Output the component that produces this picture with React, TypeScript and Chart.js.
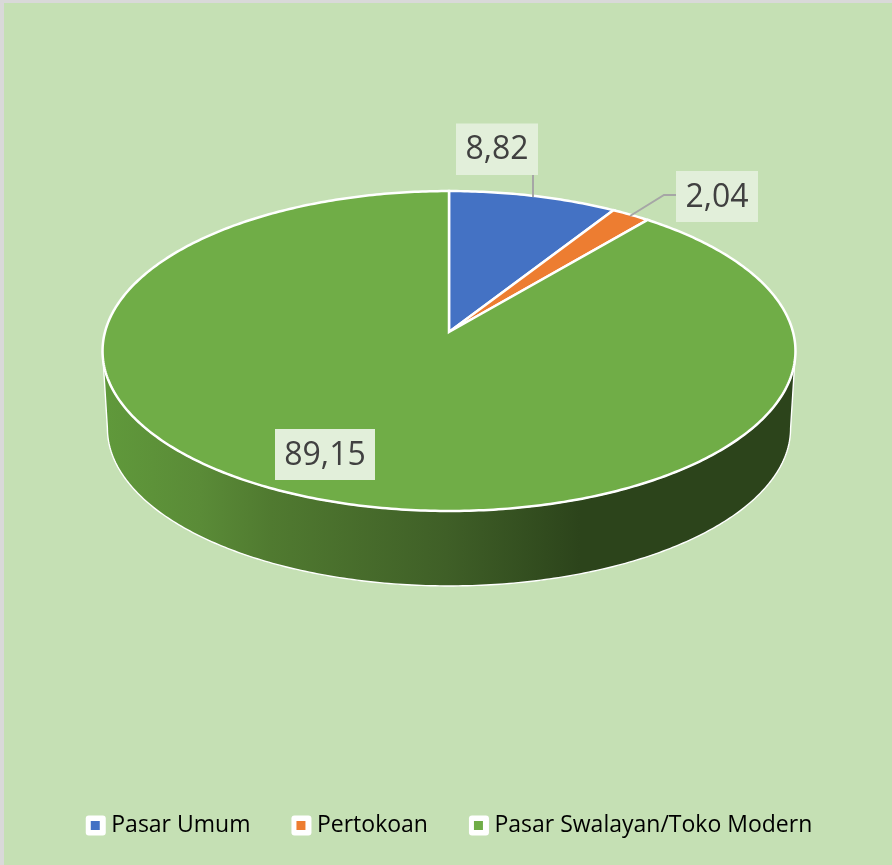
import React, { useEffect, useRef } from "react";
import { Chart, registerables, ArcElement, PieController } from "chart.js";

const categories = ["Pasar Umum", "Pertokoan", "Pasar Swalayan/Toko Modern"];
const shares = [8.82, 2.04, 89.15];
const sliceColors = ["#4472c4", "#ed7d31", "#70ad47"];

// projective view of the pie's disc
const VIEW = { cx: 449, topY: 332, bottomY: 409.5, f: 344, g: 157.7, k: -0.11875, baseScale: 0.986 };

function rim(theta: number, base: boolean) {
  const s = base ? VIEW.baseScale : 1;
  const d = 1 + VIEW.k * Math.sin(theta);
  return {
    x: VIEW.cx + (s * VIEW.f * Math.cos(theta)) / d,
    y: (base ? VIEW.bottomY : VIEW.topY) + (s * VIEW.g * Math.sin(theta)) / d,
  };
}

class PerspectiveArc extends ArcElement {
  static id = "perspectiveArc";
  draw(ctx: CanvasRenderingContext2D) {
    const { startAngle, endAngle } = (this as any).getProps(["startAngle", "endAngle"]);
    const o = (this as any).options;
    const sweep = Math.asin(-VIEW.k);
    const a0 = Math.max(startAngle, sweep);
    const a1 = Math.min(endAngle, Math.PI - sweep);
    ctx.save();
    if (a1 > a0) {
      const n = 240;
      ctx.beginPath();
      for (let i = 0; i <= n; i++) {
        const p = rim(a0 + ((a1 - a0) * i) / n, false);
        if (i === 0) ctx.moveTo(p.x, p.y);
        else ctx.lineTo(p.x, p.y);
      }
      for (let i = n; i >= 0; i--) {
        const p = rim(a0 + ((a1 - a0) * i) / n, true);
        ctx.lineTo(p.x, p.y);
      }
      ctx.closePath();
      const g = ctx.createLinearGradient(105, 0, 580, 0);
      g.addColorStop(0, "#60993b");
      g.addColorStop(0.2, "#5a8b37");
      g.addColorStop(0.35, "#507a30");
      g.addColorStop(0.72, "#3f5f27");
      g.addColorStop(1, "#2c441b");
      ctx.fillStyle = g;
      ctx.fill();
      ctx.strokeStyle = "#ffffff";
      ctx.lineWidth = 1.4;
      ctx.lineJoin = "round";
      ctx.stroke();
    }
    const n = Math.max(8, Math.ceil((endAngle - startAngle) * 80));
    ctx.beginPath();
    ctx.moveTo(VIEW.cx, VIEW.topY);
    for (let i = 0; i <= n; i++) {
      const p = rim(startAngle + ((endAngle - startAngle) * i) / n, false);
      ctx.lineTo(p.x, p.y);
    }
    ctx.closePath();
    ctx.fillStyle = o.backgroundColor;
    ctx.fill();
    ctx.strokeStyle = o.borderColor;
    ctx.lineWidth = o.borderWidth;
    ctx.lineJoin = "miter";
    ctx.stroke();
    ctx.restore();
  }
}

class PerspectivePie extends PieController {
  static id = "perspectivePie";
  static defaults = { dataElementType: "perspectiveArc" };
}

Chart.register(...registerables, PerspectiveArc, PerspectivePie);

const backdrop = {
  id: "backdrop",
  beforeDraw(chart: any) {
    const { ctx, width, height } = chart;
    ctx.save();
    ctx.fillStyle = "#d9d9d9";
    ctx.fillRect(0, 0, width, height);
    ctx.fillStyle = "#c5e0b4";
    ctx.fillRect(4, 3, width - 4, height - 3);
    ctx.fillStyle = "#ffffff";
    for (const h of chart.legend.legendHitBoxes) {
      ctx.beginPath();
      ctx.roundRect(h.left - 5, h.top + h.height / 2 - 10, 20, 20, 3);
      ctx.fill();
    }
    ctx.restore();
  },
};

const labelBoxes = [
  { l: 456, t: 123.5, r: 538, b: 175, leader: [[533, 175], [533, 197]] },
  { l: 676, t: 171, r: 758, b: 222, leader: [[676, 195], [664, 195], [630, 216]] },
  { l: 275, t: 429, r: 375, b: 480, leader: [] },
];

const valueLabels = {
  id: "valueLabels",
  afterDatasetsDraw(chart: any) {
    const { ctx } = chart;
    ctx.save();
    labelBoxes.forEach((b, i) => {
      if (b.leader.length) {
        ctx.beginPath();
        b.leader.forEach(([x, y]: number[], j: number) => (j ? ctx.lineTo(x, y) : ctx.moveTo(x, y)));
        ctx.strokeStyle = "#a6a6a6";
        ctx.lineWidth = 2;
        ctx.stroke();
      }
      ctx.fillStyle = "#e2efda";
      ctx.fillRect(b.l, b.t, b.r - b.l, b.b - b.t);
      ctx.fillStyle = "#404040";
      ctx.font = '32px "Open Sans"';
      ctx.textAlign = "center";
      ctx.textBaseline = "middle";
      const v = chart.data.datasets[0].data[i];
      ctx.fillText(v.toFixed(2).replace(".", ","), (b.l + b.r) / 2, (b.t + b.b) / 2 + 1);
    });
    ctx.restore();
  },
};

export default function App() {
  const ref = useRef<HTMLCanvasElement>(null);
  useEffect(() => {
    const chart = new Chart(ref.current as HTMLCanvasElement, {
      type: "perspectivePie" as any,
      data: {
        labels: categories,
        datasets: [
          {
            data: shares,
            backgroundColor: sliceColors,
            borderColor: "#ffffff",
            borderWidth: 2.5,
          },
        ],
      },
      options: {
        responsive: false,
        animation: false,
        devicePixelRatio: 1,
        layout: { padding: { bottom: 18, left: 11 } },
        plugins: {
          tooltip: { enabled: false },
          legend: {
            display: true,
            position: "bottom",
            labels: {
              boxWidth: 9,
              boxHeight: 9,
              padding: 46,
              color: "#595959",
              font: { family: '"Open Sans"', size: 23 },
              generateLabels: (c: any) =>
                c.data.labels.map((text: string, i: number) => ({
                  text,
                  fillStyle: sliceColors[i],
                  strokeStyle: sliceColors[i],
                  lineWidth: 0,
                  index: i,
                })),
            },
          },
        },
      } as any,
      plugins: [backdrop, valueLabels],
    } as any);
    return () => chart.destroy();
  }, []);
  return (
    <div style={{ position: "absolute", left: 0, top: 0 }}>
      <canvas ref={ref} width={892} height={865} style={{ display: "block" }} />
    </div>
  );
}
